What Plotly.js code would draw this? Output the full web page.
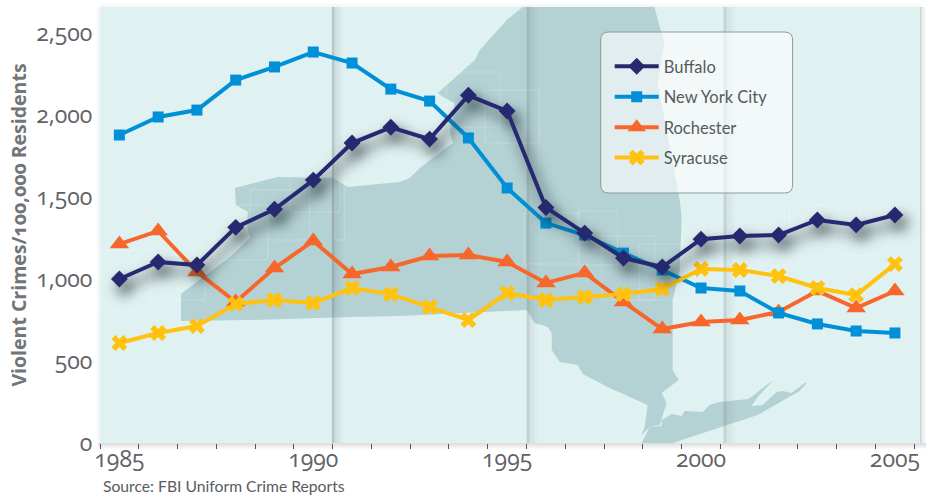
<!DOCTYPE html>
<html>
<head>
<meta charset="utf-8">
<script src="https://cdn.plot.ly/plotly-3.0.1.min.js"></script>
<style>
html,body{margin:0;padding:0;background:#fff;}
#chart{width:935px;height:497px;}
#chart .xtick text,#chart .ytick text,#chart .g-ytitle text{font-variant-numeric:oldstyle-nums;font-feature-settings:"onum" 1;}
</style>
</head>
<body>
<div id="chart"></div>
<script>
const years = [1985,1986,1987,1988,1989,1990,1991,1992,1993,1994,1995,1996,1997,1998,1999,2000,2001,2002,2003,2004,2005];
const buffalo = [1000,1104,1085,1315,1425,1603,1829,1925,1853,2120,2024,1436,1280,1128,1073,1243,1262,1268,1360,1330,1390];
const newYorkCity = [1878,1988,2030,2213,2293,2384,2317,2158,2085,1860,1555,1341,1268,1158,1055,945,927,793,726,683,671];
const rochester = [1213,1293,1043,860,1067,1232,1030,1073,1140,1146,1104,976,1037,860,695,738,750,799,927,823,927];
const syracuse = [610,671,713,848,872,854,945,908,829,750,915,872,890,908,939,1061,1055,1018,945,902,1091];
const xTickYears = [1985,1990,1995,2000,2005];
const yTickValues = [0,500,1000,1500,2000,2500];
const yTickLabels = ['0','500','1,000','1,500','2,000','2,500'];

// decorative backdrop, in page pixels
const W=935,H=497,L=100,R=921.5,T=7,B=443;
const mapMain = [[181,321],[250,320],[350,317],[400,316],[527,310],[535,323],[548,327],[552,333],[552,350],[560,362],[578,365],[583,374],[610,388],[648,405],[645,427],[642,435],[650,427],[660,425],[667,403],[662,393],[679,380],[673,370],[673,300],[680,270],[682,217],[680,200],[658,83],[665,43],[658,20],[655,7],[523,7],[507,20],[480,50],[475,60],[438,93],[445,98],[455,103],[450,133],[453,143],[420,168],[410,178],[400,182],[348,187],[333,178],[278,177],[235,188],[236,205],[248,212],[247,223],[250,238],[230,257],[181,294]];
const mapIsland = [[642,443],[650,427],[662,426],[662,420],[672,414],[682,416],[685,411],[703,412],[710,405],[720,402],[749,399],[767,385],[774,380],[758,397],[752,406],[763,405],[777,392],[783,391],[792,393],[805,383],[807,383],[800,391],[758,415],[673,443]];
const faintBoxes = [[100,250,150,310],[150,255,205,300],[215,205,268,260],[250,190,310,240],[290,160,340,212],[335,170,345,240],[447,72,500,127],[485,90,540,143],[524,213,580,264],[578,211,618,265],[602,236,655,300],[640,244,695,300],[712,210,790,265],[790,205,860,235],[835,195,890,255]];
const folds = [[333,0.30],[528,0.24],[725,0.22]];

const xp=x=>(x-L)/(R-L), yp=y=>(B-y)/(B-T);
const pathOf=pts=>'M'+pts.map(p=>xp(p[0]).toFixed(5)+','+yp(p[1]).toFixed(5)).join('L')+'Z';
const rect=(x0,y0,x1,y1,color,layer)=>({type:'rect',xref:'paper',yref:'paper',x0:xp(x0),x1:xp(x1),y0:yp(y1),y1:yp(y0),fillcolor:color,line:{width:0},layer:layer||'below'});
const shapes=[];
shapes.push(rect(L,T,R,B,'#e0f1f1'));
shapes.push({type:'path',xref:'paper',yref:'paper',path:pathOf(mapMain),fillcolor:'#b4d1d4',line:{width:0},layer:'below'});
shapes.push({type:'path',xref:'paper',yref:'paper',path:pathOf(mapIsland),fillcolor:'#b4d1d4',line:{width:0},layer:'below'});
faintBoxes.forEach(b=>shapes.push({type:'rect',xref:'paper',yref:'paper',x0:xp(b[0]),x1:xp(b[2]),y0:yp(b[3]),y1:yp(b[1]),fillcolor:'rgba(255,255,255,0)',line:{color:'rgba(255,255,255,0.22)',width:1},layer:'below'}));
folds.forEach(f=>{
  shapes.push(rect(f[0]-1,T,f[0]+1.5,B,`rgba(90,100,100,${f[1]})`));
  for(let i=0;i<9;i++) shapes.push(rect(f[0]+1.5+i,T,f[0]+2.5+i,B,`rgba(90,100,100,${(f[1]*0.45*(1-i/9)).toFixed(3)})`));
});
// panel edge shadows
for(let i=0;i<6;i++){
  const a=(0.17*(1-i/6)).toFixed(3);
  shapes.push(rect(L-2,B+i,R+5,B+i+1,`rgba(60,60,60,${a})`));
  shapes.push(rect(R+i-1,T,R+i,B,`rgba(60,70,70,${a})`));
}
for(let i=0;i<4;i++){
  const a=(0.05*(1-i/4)).toFixed(3);
  shapes.push(rect(L-i-1,T,L-i,B,`rgba(60,60,60,${a})`));
  shapes.push(rect(L,T-i-1,R,T-i,`rgba(60,60,60,${a})`));
}
// legend panel with rounded corners
const bx0=xp(601),bx1=xp(793),by0=yp(193),by1=yp(32),rx=8/(R-L),ry=8/(B-T);
shapes.push({type:'path',xref:'paper',yref:'paper',layer:'above',fillcolor:'rgba(255,255,255,0.6)',line:{color:'#8c9a9c',width:1},
 path:`M${bx0+rx},${by0}L${bx1-rx},${by0}Q${bx1},${by0} ${bx1},${by0+ry}L${bx1},${by1-ry}Q${bx1},${by1} ${bx1-rx},${by1}L${bx0+rx},${by1}Q${bx0},${by1} ${bx0},${by1-ry}L${bx0},${by0+ry}Q${bx0},${by0} ${bx0+rx},${by0}Z`});

const mk=(name,y,color,sym,size,rank,lw)=>({type:'scatter',mode:'lines+markers',name,x:years,y,legendgroup:name,legendrank:rank,
  line:{color,width:lw},marker:{symbol:sym,size,color,line:{width:0}},cliponaxis:false,hoverinfo:'x+y+name'});
const data=[
  mk('Rochester',rochester,'#f7672b','triangle-up',17,3,4),
  mk('New York City',newYorkCity,'#0090d7','square',11,2,4),
  mk('Syracuse',syracuse,'#ffc20e','x',14,4,4),
  mk('Buffalo',buffalo,'#262870','diamond',13,1,4)
];
const layout={
  width:W,height:H,margin:{l:L,r:W-R,t:T,b:H-B,pad:0},
  paper_bgcolor:'#fff',plot_bgcolor:'rgba(0,0,0,0)',showlegend:true,
  font:{family:'"Open Sans",sans-serif',color:'#616265'},
  xaxis:{range:[1984.5,1984.5+(R-L)/38.8],tickmode:'array',tickvals:xTickYears,ticktext:xTickYears.map(String),
    ticks:'',tickfont:{size:23,color:'#616265',family:'"Open Sans",sans-serif'},showgrid:false,zeroline:false,showline:false,
    minor:{tick0:1984.5,dtick:1,ticks:'outside',ticklen:5,tickwidth:1,tickcolor:'#555',showgrid:false}},
  yaxis:{range:[0,(B-T)/0.164],tickmode:'array',tickvals:yTickValues,ticktext:yTickLabels,ticks:'outside',ticklen:2,tickcolor:'rgba(0,0,0,0)',
    tickfont:{size:23,color:'#616265',family:'"Open Sans",sans-serif'},showgrid:false,zeroline:false,showline:false,
    title:{text:'Violent Crimes/100,000 Residents',font:{size:19.5,color:'#737476',family:'"Open Sans",sans-serif',weight:700},standoff:2}},
  legend:{x:xp(610),y:yp(49),xanchor:'left',yanchor:'top',bgcolor:'rgba(0,0,0,0)',borderwidth:0,itemwidth:44,traceorder:'grouped',tracegroupgap:6,
    font:{size:16.5,color:'#58595b',family:'Lato,sans-serif'},itemsizing:'trace'},
  shapes,
  annotations:[{text:'Source: FBI Uniform Crime Reports',xref:'paper',yref:'paper',x:xp(101),y:yp(486),xanchor:'left',yanchor:'middle',showarrow:false,
    font:{size:15.7,color:'#5a5b5d',family:'Lato,sans-serif'}}]
};
Plotly.newPlot('chart',data,layout,{displayModeBar:false,responsive:false}).then(gd=>{
  const traces=gd.querySelectorAll('.scatterlayer .trace');
  const top=traces[traces.length-1];
  if(top) top.style.filter='drop-shadow(5px 8px 7px rgba(15,30,35,0.85))';
});
</script>
</body>
</html>
